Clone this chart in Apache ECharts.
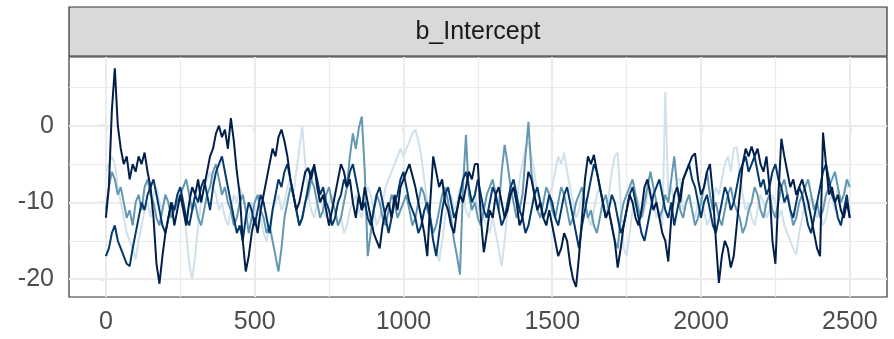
<!DOCTYPE html>
<html><head><meta charset="utf-8">
<script src="https://cdn.jsdelivr.net/npm/echarts@6/dist/echarts.min.js"></script>
<style>html,body{margin:0;padding:0;background:#fff}#c{width:894px;height:339px}</style>
</head><body><div id="c"></div>
<script>
// draws are read every 10 iterations, from iteration 0 to 2500
const iterStep = 10;

const chain1 = [
-6,-5,-4,-5,-8,-10,-12,-14,-15,-16,-17.4,-15,-13,-11,-10,-12,-9,-8,-10,-11,-9,-10,-12,-11,-9,
-8,-10,-14,-18,-20,-17,-13,-10,-8,-7,-6,-8,-9,-11,-10,-12,-13,-11,-9,-10,-8,-9,-11,-12,-10,
-11,-13,-12,-14,-15,-13,-11,-10,-9,-11,-10,-8,-7,-9,-6,-3,-0.1,-5,-9,-11,-12,-10,-9,-11,-12,
-10,-9,-11,-13,-12,-14,-13,-11,-10,-9,-11,-12,-10,-8,-9,-11,-13,-12,-10,-8,-7,-6,-5,-4,-3,
-4,-3,-2,-1,-0.5,-2,-4,-7,-10,-13,-15,-16,-17.7,-15,-12,-10,-9,-11,-10,-8,-9,-11,-12,-10,-9,
-11,-10,-12,-13,-14,-12,-14,-16,-18.3,-15,-11,-9,-8,-10,-7,-5,-3,-2,-4,-6,-9,-10,-12,-11,-9,
-8,-6,-4,-5,-3.5,-6,-8,-10,-12,-11,-9,-10,-12,-13,-11,-9,-8,-10,-12,-9,-6,-4,-3.5,-10,-16,
-17,-14,-11,-9,-10,-12,-11,-9,-8,-10,-12,-11,-13,4.4,-9,-8,-10,-7,-7,-11,-10,-9,-11,-12,-10,
-9,-11,-13,-12,-10,-8,-9,-7,-5,-4,-6,-3,-2.8,-6,-9,-11,-10,-12,-13,-11,-9,-10,-12,-11,-9,
-10,-12,-11,-13,-14,-15,-16,-16.8,-14,-12,-10,-11,-9,-10,-12,-11,-13,-12,-10,-9,-11,-8,-10,-9,-8,
-7];

const chain2 = [
-11,-8,-6,-7,-9,-8,-10,-12,-11,-13,-10,-9,-11,-8,-7,-9,-10,-12,-13,-11,-9,-10,-12,-11,-10,
-9,-8,-7,-9,-11,-10,-12,-13,-11,-9,-8,-6,-5,-7,-9,-8,-10,-11,-13,-12,-10,-9,-11,-14,-12,
-10,-9,-11,-12,-14,-13,-15,-17,-19,-16,-12,-10,-8,-9,-11,-13,-12,-10,-9,-7,-8,-10,-12,-11,-9,
-8,-10,-11,-13,-12,-10,-8,-4,-1,-3,-0.3,1.2,-6,-17,-14,-11,-9,-10,-12,-13,-11,-9,-10,-12,-11,
-10,-9,-11,-13,-12,-10,-8,-9,-11,-12,-14,-13,-11,-9,-8,-10,-12,-15,-17,-19.4,-8,-1.2,-9,-11,-10,
-12,-13,-11,-9,-8,-7,-9,-11,-6,-2.5,-5,-8,-10,-12,-11,-9,-4,0.5,-6,-9,-11,-12,-10,-8,-9,
-11,-12,-10,-8,-9,-11,-13,-12,-10,-9,-8,-10,-12,-11,-13,-14,-12,-10,-9,-11,-13,-15,-16,-12,-10,
-9,-8,-7,-9,-11,-12,-10,-8,-6,-8,-10,-12,-11,-9,-10,-7,-4,-8,-11,-12,-10,-9,-11,-13,-12,
-10,-8,-6,-9,-11,-10,-12,-13,-11,-9,-8,-10,-11,-12,-14,-13,-11,-10,-8,-9,-11,-12,-10,-9,-11,
-12,-10,-8,-7,-9,-11,-13,-12,-10,-9,-8,-7,-9,-11,-10,-12,-11,-9,-8,-7,-6,-8,-10,-9,-7,
-8];

const chain3 = [
-17,-16,-14,-13,-15,-16,-17,-18,-18.3,-16,-14,-12,-10,-11,-9,-8,-7,-9,-11,-13,-14,-12,-10,-11,-9,
-8,-10,-12,-13,-11,-9,-10,-8,-7,-9,-11,-8,-6,-5,-4,-6,-8,-10,-12,-14,-13,-15,-12,-10,-11,
-13,-11,-9,-10,-12,-14,-11,-9,-7,-8,-6,-5,-7,-9,-11,-13,-12,-10,-8,-6,-5.3,-7,-9,-8,-10,
-11,-13,-12,-10,-9,-7,-8,-6,-5,-7,-9,-11,-10,-12,-13,-11,-9,-8,-10,-12,-14,-12,-10,-9,-7,
-6,-8,-10,-11,-12,-14,-13,-11,-10,-12,-15,-17,-14,-11,-9,-8,-10,-12,-11,-9,-7,-6,-8,-10,-9,
-7,-9,-11,-12,-10,-8,-9,-11,-13,-12,-10,-8,-7,-9,-11,-12,-14,-13,-11,-9,-8,-10,-12,-11,-9,
-10,-12,-13,-11,-9,-8,-10,-12,-14,-16,-13,-11,-9,-7,-5,-6,-8,-10,-12,-11,-9,-10,-12,-14,-13,
-11,-9,-8,-10,-12,-14,-15,-13,-11,-9,-8,-7,-9,-11,-12,-10,-13,-11,-9,-7,-6,-5,-7,-8,-10,
-12,-10,-9,-11,-13,-14,-12,-10,-8,-9,-11,-10,-8,-6,-5,-4,-6,-5,-4,-6,-8,-7,-9,-8,-6,
-5,-7,-8,-10,-9,-11,-12,-10,-8,-9,-11,-13,-14,-12,-10,-8,-6,-5,-7,-9,-10,-12,-13,-11,-9,
-12];

const chain4 = [
-12,-8,2,7.5,0,-3,-5,-4,-7,-5,-6,-4,-5,-3.5,-6,-8,-12,-18,-20.6,-17,-14,-12,-10,-13,-11,
-9,-11,-13,-10,-8,-9,-7,-10,-8,-6,-4,-3,-1,0,-1.5,-0.5,-3,1,-2,-6,-9,-15,-19,-17,-14,
-12,-14,-11,-9,-7,-5,-3,-4,-1.5,-0.5,-2,-4,-7,-9,-11,-10,-8,-6,-5.5,-7,-5,-8,-10,-9,-11,
-13,-11,-9,-7,-5,-6,-8,-7,-10,-12,-9,-11,-8,-10,-12,-14,-15,-16,-13,-11,-10,-12,-9,-11,-8,
-7,-6,-5,-6.5,-8,-10,-12,-14,-17,-10,-4,-6,-8,-7,-10,-11,-13,-14,-11,-9,-10,-8,-6,-7,-5,
-5,-12,-16.5,-14,-11,-12,-9,-8,-10,-12,-11,-9,-8,-10,-13,-12,-9,-6,-7,-9,-11,-10,-12,-13,-11,
-13,-15,-17,-16,-14,-15,-18,-20,-21,-17,-12,-7,-4,-5,-3.8,-6,-8,-10,-12,-11,-13,-15,-18.5,-16,-13,
-11,-9,-10,-12,-13,-11,-8,-7,-9,-11,-10,-12,-14,-15,-17.7,-12,-9,-8,-10,-7,-6,-5,-4,-3.6,-7,
-9,-8,-6,-5,-9,-15,-20.5,-17,-15,-16,-18.5,-17,-13,-9,-5,-3,-4,-2.7,-4,-3,-5,-6,-4,-8,-15,
-18,-9,-1.7,-4,-6,-8,-7,-9,-8,-7,-8.5,-10,-12,-14,-16,-17,-0.9,-5,-9,-8,-10,-9,-11,-12,-10,
-12];

const chainNames = ['1','2','3','4'];
const chainColors = ['#d1e1ec','#6497b1','#03396c','#011f4b'];
const panelTitle = 'b_Intercept';
const xTicks = [0,500,1000,1500,2000,2500];
const xMinor = [250,750,1250,1750,2250];
const yTicks = [-20,-10,0];
const yMinor = [-15,-5,5];

const chains = [chain1, chain2, chain3, chain4];
const chart = echarts.init(document.getElementById('c'), null, {renderer:'canvas'});

const gridColor = '#ebebeb';
const gridLines = [];
xTicks.forEach(v => gridLines.push({xAxis: v, lineStyle:{color:gridColor, width:2, type:'solid'}}));
xMinor.forEach(v => gridLines.push({xAxis: v, lineStyle:{color:gridColor, width:1.2, type:'solid'}}));
yTicks.forEach(v => gridLines.push({yAxis: v, lineStyle:{color:gridColor, width:2, type:'solid'}}));
yMinor.forEach(v => gridLines.push({yAxis: v, lineStyle:{color:gridColor, width:1.2, type:'solid'}}));

const series = chains.map((vals, ci) => ({
  name: chainNames[ci],
  type: 'line',
  data: vals.map((v, i) => [i * iterStep, v]),
  showSymbol: false,
  symbol: 'none',
  lineStyle: {color: chainColors[ci], width: 2},
  itemStyle: {color: chainColors[ci]},
  z: 3 + ci,
  silent: true,
  animation: false
}));
series[0].markLine = {
  silent: true, symbol: ['none','none'], label:{show:false}, z: 1,
  animation: false, data: gridLines
};

const fontFamily = 'Liberation Sans, Arial, sans-serif';
chart.setOption({
  animation: false,
  backgroundColor: '#fff',
  grid: {left: 69, right: 7, top: 57, bottom: 42, show: true, borderColor: '#333', borderWidth: 1.2, backgroundColor: 'transparent'},
  xAxis: {
    type: 'value', min: -124, max: 2625,
    axisLine: {show: false},
    splitLine: {show: false},
    axisTick: {show: true, length: 7, customValues: xTicks, lineStyle: {color: '#333', width: 1.2}},
    axisLabel: {customValues: xTicks, formatter: v => String(v), color: '#4d4d4d', fontSize: 25, fontFamily: fontFamily, margin: 13}
  },
  yAxis: {
    type: 'value', min: -22.33, max: 8.96,
    axisLine: {show: false},
    splitLine: {show: false},
    axisTick: {show: true, length: 7, customValues: yTicks, lineStyle: {color: '#333', width: 1.2}},
    axisLabel: {customValues: yTicks, formatter: v => String(v), color: '#4d4d4d', fontSize: 25, fontFamily: fontFamily, margin: 15}
  },
  graphic: [
    {type: 'rect', x: 69, y: 7, shape: {width: 818, height: 49}, style: {fill: '#d9d9d9', stroke: '#333', lineWidth: 1.2}, z: 10},
    {type: 'text', x: 478, y: 32, style: {text: panelTitle, font: '25px ' + fontFamily, fill: '#1a1a1a', textAlign: 'center', textVerticalAlign: 'middle'}, z: 11}
  ],
  series: series
});
</script></body></html>
